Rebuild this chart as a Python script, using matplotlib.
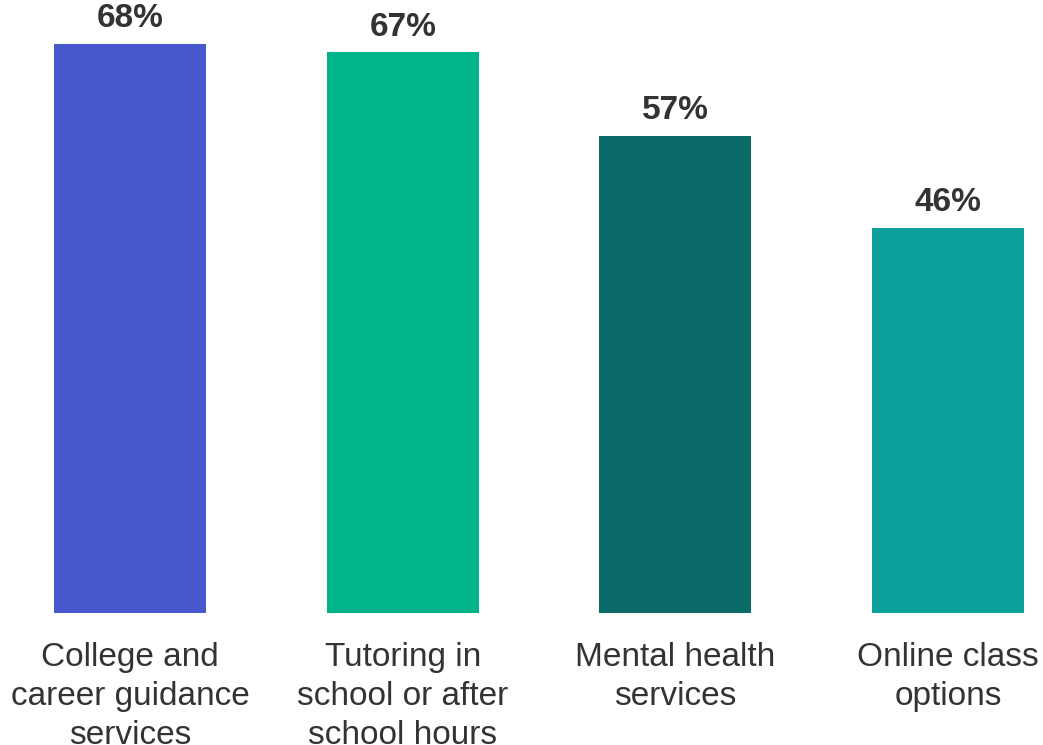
import matplotlib
matplotlib.use("Agg")
from matplotlib import pyplot as plt

# data
categories = [
    "College and\ncareer guidance\nservices",
    "Tutoring in\nschool or after\nschool hours",
    "Mental health\nservices",
    "Online class\noptions",
]
values = [68, 67, 57, 46]
colors = ["#4757CC", "#00B48A", "#0A6B68", "#0CA09C"]

plt.rcParams['font.family'] = ['Liberation Sans', 'DejaVu Sans']
text_color = "#333333"

fig = plt.figure(figsize=(10.43, 7.45), dpi=100)
ax = fig.add_axes([0, 132 / 745, 1, 613 / 745])

x = range(len(values))
bars = ax.bar(x, values, width=0.557, color=colors)

# value labels above bars
for xi, v in zip(x, values):
    ax.annotate("{0}%".format(v), (xi, v), xytext=(0, 12),
                textcoords="offset points", ha="center", va="baseline",
                fontsize=24, fontweight="bold", color=text_color,
                annotation_clip=False)

ax.set_xlim(-130 / 272.7, (1043 - 130) / 272.7)
ax.set_ylim(0, 613 / 8.37)
ax.set_xticks(list(x))
ax.set_xticklabels(categories, fontsize=24, color=text_color, linespacing=1.32)
ax.tick_params(axis="x", length=0, pad=21)
ax.set_yticks([])
for side in ["top", "right", "left", "bottom"]:
    ax.spines[side].set_visible(False)

fig.savefig("out.png", dpi=100)
